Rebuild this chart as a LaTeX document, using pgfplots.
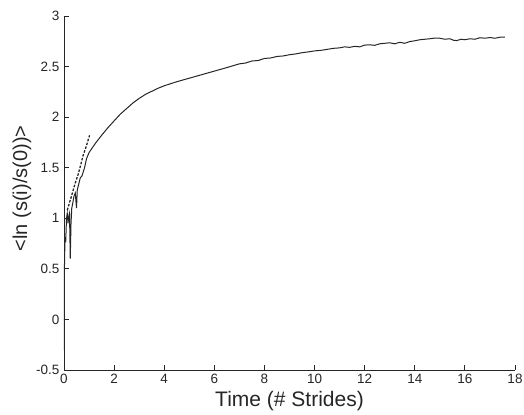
\documentclass[border=0pt]{standalone}
\usepackage{fontspec}
\setmainfont{Liberation Sans}
\usepackage{pgfplots}
\pgfplotsset{compat=1.18}
\begin{document}
\begin{tikzpicture}
\begin{axis}[
  name=main,
  scale only axis,
  width=451pt, height=354pt,
  xmin=0, xmax=18, ymin=-0.5, ymax=3,
  axis x line*=bottom, axis y line*=left,
  axis line style={-, line width=0.9pt, black!85},
  tick align=inside,
  major tick length=5pt,
  tick style={line width=0.8pt, black!85},
  xtick={0,2,...,18},
  ytick={-0.5,0,0.5,1,1.5,2,2.5,3},
  yticklabels={-0.5,0,0.5,1,1.5,2,2.5,3},
  xticklabels={0,2,4,6,8,10,12,14,16,18},
  ticklabel style={font=\fontsize{13.5}{14}\selectfont, text=black!85},
  yticklabel style={xshift=-1pt},
  xticklabel style={yshift=-1pt},
  /pgf/number format/assume math mode=true,
  xlabel={Time (\# Strides)},
  ylabel={<ln (s(i)/s(0))>},
  xlabel style={font=\fontsize{21}{22}\selectfont, text=black!85,
    at={(axis description cs:0.5,0)}, anchor=base, yshift=-37pt},
  ylabel style={font=\fontsize{20}{21}\selectfont, text=black!85,
    at={(axis description cs:-0.0932,0.513)}, anchor=center},
]
\addplot[line width=1pt, black!85] coordinates {
(0.00,-0.30) (0.02,0.55) (0.04,0.80) (0.07,0.78) (0.10,1.00) (0.13,1.05)
(0.16,0.95) (0.19,1.02) (0.22,1.05) (0.25,0.60) (0.28,0.95) (0.31,1.10)
(0.35,1.15) (0.40,1.22) (0.45,1.25) (0.50,1.10) (0.53,1.28) (0.58,1.33)
(0.65,1.40) (0.72,1.42) (0.82,1.50) (0.90,1.59) (1.00,1.65) (1.25,1.74)
(1.50,1.82) (1.75,1.895) (2.00,1.963) (2.25,2.03) (2.50,2.085) (2.75,2.14)
(3.00,2.185) (3.25,2.225) (3.50,2.255) (3.75,2.285) (4.00,2.31) (4.50,2.35)
(5.00,2.385) (5.50,2.42) (6.00,2.455) (6.50,2.49) (7.00,2.527) (7.25,2.535)
(7.50,2.555) (7.75,2.56) (8.00,2.58) (8.25,2.585) (8.50,2.60) (8.75,2.605)
(9.00,2.617) (9.25,2.625) (9.50,2.637) (9.75,2.645) (10.00,2.655) (10.25,2.66)
(10.50,2.67) (10.75,2.68) (11.00,2.685) (11.20,2.695) (11.40,2.69)
(11.60,2.70) (11.80,2.695) (12.00,2.712) (12.20,2.715) (12.40,2.71)
(12.60,2.725) (12.80,2.73) (13.00,2.735) (13.20,2.725) (13.40,2.74)
(13.60,2.73) (13.80,2.747) (14.00,2.755) (14.20,2.765) (14.40,2.77)
(14.60,2.775) (14.75,2.78) (15.00,2.78) (15.20,2.77) (15.40,2.775)
(15.55,2.76) (15.67,2.757) (15.85,2.77) (16.00,2.765) (16.20,2.775)
(16.40,2.77) (16.60,2.785) (16.80,2.78) (17.00,2.787) (17.20,2.78)
(17.40,2.79) (17.60,2.79)
};
\addplot[line width=1.3pt, black!85, dash pattern=on 2.5pt off 1.5pt] coordinates {
(0.13,1.08) (0.30,1.22) (0.45,1.35) (0.56,1.43) (0.66,1.52) (0.76,1.62)
(0.90,1.72) (1.02,1.82)
};
\end{axis}
\pgfresetboundingbox
\path ([shift={(-64pt,-45pt)}]main.south west) rectangle ([shift={(9pt,16pt)}]main.north east);
\end{tikzpicture}
\end{document}
